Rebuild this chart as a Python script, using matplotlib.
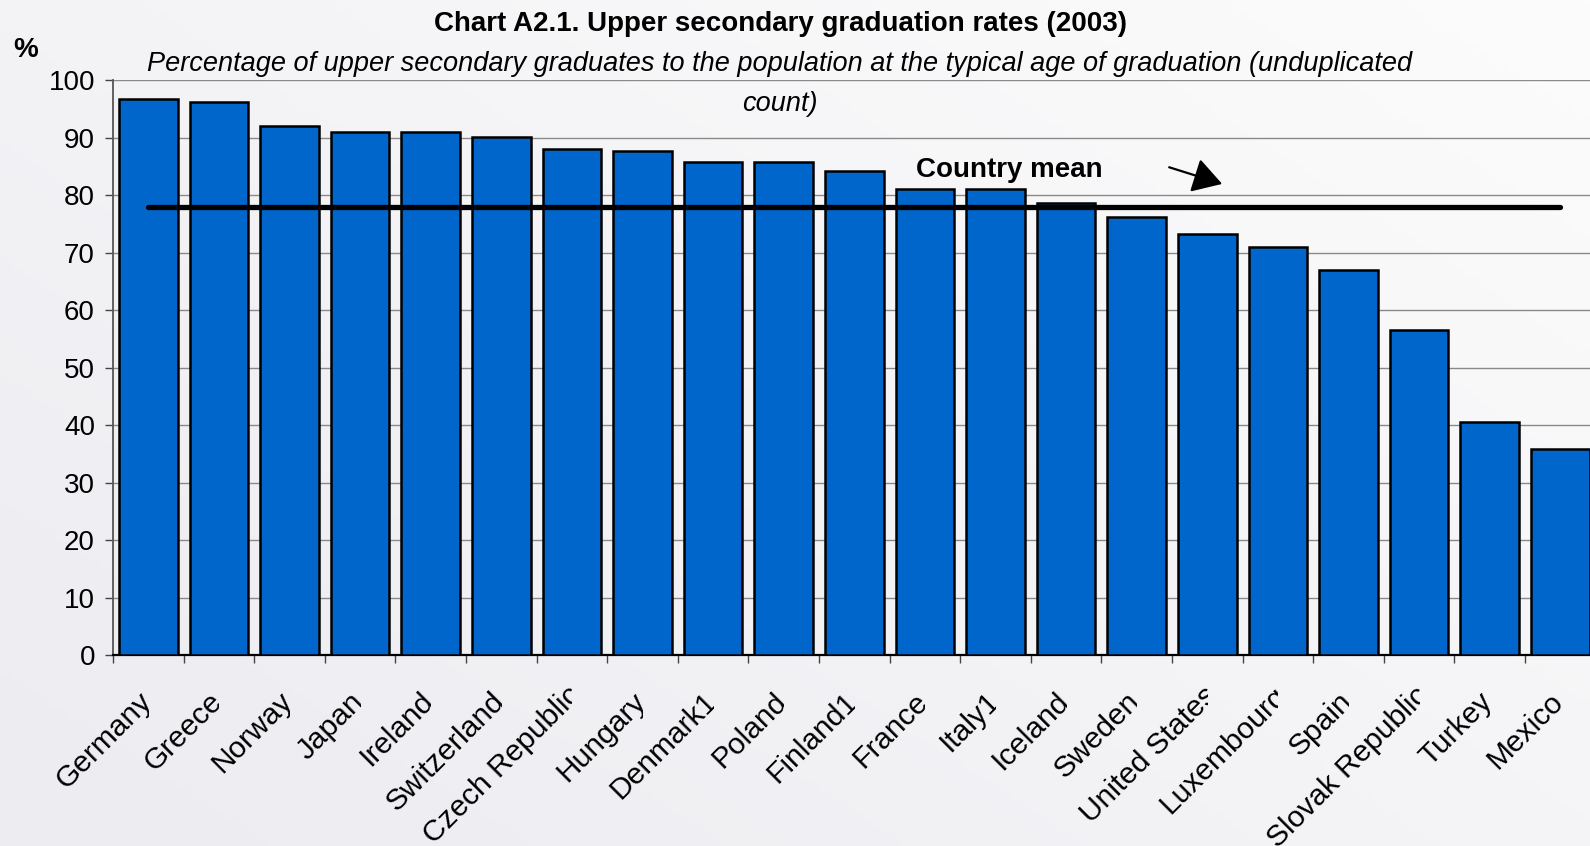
import matplotlib
matplotlib.use("Agg")
import matplotlib.pyplot as plt
import numpy as np
from matplotlib.transforms import offset_copy, Bbox
from matplotlib.patches import FancyArrowPatch

plt.rcParams['font.family'] = ['Liberation Sans', 'DejaVu Sans']

# ---------------- data ----------------
countries = ["Germany", "Greece", "Norway", "Japan", "Ireland", "Switzerland",
             "Czech Republic", "Hungary", "Denmark1", "Poland", "Finland1",
             "France", "Italy1", "Iceland", "Sweden", "United States",
             "Luxembourg", "Spain", "Slovak Republic", "Turkey", "Mexico"]
rates = [96.8, 96.3, 92.0, 91.1, 91.1, 90.2, 88.1, 87.8, 85.8, 85.8, 84.3,
         81.1, 81.1, 78.7, 76.3, 73.3, 71.0, 67.1, 56.6, 40.6, 35.9]
country_mean = 78.0
yticks = list(range(0, 101, 10))

title = "Chart A2.1. Upper secondary graduation rates (2003)"
subtitle1 = ("Percentage of upper secondary graduates to the population at the "
             "typical age of graduation (unduplicated")
subtitle2 = "count)"
mean_label = "Country mean"

# ---------------- figure ----------------
W, H = 1590, 846
fig = plt.figure(figsize=(W / 100, H / 100), dpi=100)
fig.patch.set_facecolor('#f3f3f6')

# subtle background gradient
bg = fig.add_axes([0, 0, 1, 1], zorder=-10)
gx = np.linspace(0, 1, 256)
gy = np.linspace(0, 1, 128)
GX, GY = np.meshgrid(gx, gy)
g = np.clip(0.55 * GX + 0.45 * GY, 0, 1)
c0 = np.array([236, 236, 241]) / 255
c1 = np.array([252, 252, 252]) / 255
img = c0[None, None, :] * (1 - g[..., None]) + c1[None, None, :] * g[..., None]
bg.imshow(img, aspect='auto', origin='lower', extent=[0, 1, 0, 1])
bg.axis('off')

left_px, right_px = 113, 113 + 21 * 70.6
top_px, bot_px = 80.5, 655
ax = fig.add_axes([left_px / W, (H - bot_px) / H,
                   (right_px - left_px) / W, (bot_px - top_px) / H])
ax.set_facecolor('none')

n = len(countries)
x = np.arange(n)
ax.bar(x, rates, width=0.83, color='#0066cc', edgecolor='black',
       linewidth=1.8, zorder=3)
ax.plot(x, [country_mean] * n, color='black', lw=3.8,
        solid_capstyle='round', zorder=4)

ax.set_xlim(-0.5, n - 0.5)
ax.set_ylim(0, 100)
ax.set_yticks(yticks)
ax.set_yticklabels([str(v) for v in yticks], fontsize=20)
ax.yaxis.grid(True, color='#8a8a8a', lw=1.0, zorder=0)
ax.set_axisbelow(True)
ax.tick_params(axis='y', direction='out', length=6, width=1.0,
               color='#444444', pad=7)

# x ticks at category boundaries
ax.set_xticks(np.arange(-0.5, n, 1.0))
ax.set_xticklabels([])
ax.tick_params(axis='x', direction='out', length=6, width=1.0,
               color='#444444')

for s in ['top', 'right']:
    ax.spines[s].set_visible(False)
ax.spines['left'].set_color('#555555')
ax.spines['left'].set_linewidth(1.3)
ax.spines['bottom'].set_color('black')
ax.spines['bottom'].set_linewidth(1.6)

# ---------------- rotated category labels (clipped like the original) ----
fig.canvas.draw()
renderer = fig.canvas.get_renderer()
fs_lab = 21.5
em_px = fs_lab * 100 / 72
for i, name in enumerate(countries):
    t = ax.text(i, 0, name, fontsize=fs_lab, ha='right', va='center',
                rotation=0, rotation_mode='anchor', clip_on=False)
    w = t.get_window_extent(renderer).width
    shift = 8.0 if w > 5.35 * em_px else 0.0
    t.set_transform(offset_copy(ax.get_xaxis_transform(), fig=fig,
                                x=shift * 0.7071 - 1, y=-42 + shift * 0.7071,
                                units='dots'))
    t.set_rotation(45)
    cx = ax.transData.transform((i, 0))[0]
    t.set_clip_box(Bbox([[-1e4, -1e4], [cx + 0.5, 1e5]]))
    t.set_clip_on(True)

# ---------------- texts ----------------
fig.text(781 / W, 1 - 31 / H, title, ha='center', va='baseline',
         fontsize=20, fontweight='bold')
fig.text(780 / W, 1 - 71 / H, subtitle1, ha='center', va='baseline',
         fontsize=19.5, fontstyle='italic')
fig.text(780 / W, 1 - 111 / H, subtitle2, ha='center', va='baseline',
         fontsize=19.5, fontstyle='italic')
fig.text(25.5 / W, 1 - 57 / H, "%", ha='center', va='baseline',
         fontsize=20, fontweight='bold')

ax.text(12.2, 83.2, mean_label, ha='center', va='baseline', fontsize=20,
        fontweight='bold', zorder=6)
arrow = FancyArrowPatch((14.46, 84.9), (15.21, 82.0),
                        arrowstyle='-|>,head_length=1.0,head_width=0.6',
                        mutation_scale=18, lw=1.6, color='black',
                        shrinkA=0, shrinkB=0, zorder=6)
ax.add_patch(arrow)

fig.savefig('out.png', dpi=100, facecolor=fig.get_facecolor())
